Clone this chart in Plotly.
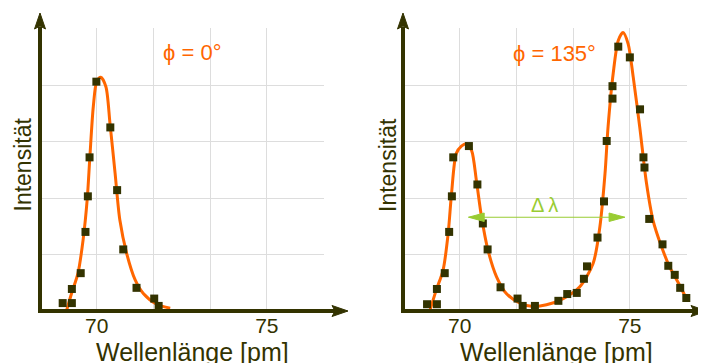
import plotly.graph_objects as go

# ---------------- data ----------------
left_pts_x = [69.00, 69.27, 69.27, 69.53, 69.67, 69.74, 69.79, 69.99, 70.40, 70.60, 70.78, 71.17, 71.69, 71.82]
left_pts_y = [0.14, 0.14, 0.39, 0.67, 1.40, 2.03, 2.72, 4.06, 3.25, 2.14, 1.09, 0.41, 0.22, 0.09]

left_fit_x = [69.12, 69.26, 69.45, 69.60, 69.72, 69.80, 69.90, 70.00, 70.12, 70.27, 70.39, 70.54,
              70.68, 70.88, 71.13, 71.37, 71.76, 72.16]
left_fit_y = [0.02, 0.31, 0.67, 1.26, 1.97, 2.74, 3.62, 4.06, 4.14, 3.97, 3.32, 2.44,
              1.61, 1.02, 0.55, 0.31, 0.12, 0.05]

right_pts_x = [69.04, 69.33, 69.33, 69.56, 69.69, 69.77, 69.81, 70.27, 70.52, 70.68, 70.82, 71.20,
               71.70, 71.85, 72.21, 72.90, 73.16, 73.44, 73.65, 73.74, 74.05, 74.24, 74.32, 74.49,
               74.49, 74.66, 75.00, 75.30, 75.40, 75.43, 75.57, 75.96, 76.13, 76.32, 76.48, 76.66]
right_pts_y = [0.12, 0.12, 0.39, 0.67, 1.40, 2.03, 2.72, 2.92, 2.24, 1.55, 1.09, 0.42,
               0.22, 0.09, 0.09, 0.18, 0.30, 0.32, 0.57, 0.79, 1.30, 1.94, 3.01, 3.76,
               3.98, 4.68, 4.49, 3.57, 2.72, 2.54, 1.63, 1.18, 0.80, 0.64, 0.41, 0.23]

right_fit_x = [69.12, 69.31, 69.51, 69.66, 69.76, 69.90, 70.05, 70.20, 70.35, 70.49, 70.64, 70.83,
               71.08, 71.37, 71.77, 72.16, 72.55, 73.04, 73.53, 73.92, 74.12, 74.27, 74.36, 74.51,
               74.66, 74.80, 74.95, 75.10, 75.29, 75.49, 75.68, 75.93, 76.17, 76.46, 76.67]
right_fit_y = [0.00, 0.37, 0.72, 1.37, 2.08, 2.79, 2.92, 2.96, 2.84, 2.31, 1.67, 1.08,
               0.61, 0.31, 0.14, 0.08, 0.11, 0.22, 0.43, 0.84, 1.49, 2.43, 3.26, 4.20,
               4.79, 4.93, 4.73, 4.14, 3.26, 2.26, 1.61, 1.14, 0.78, 0.46, 0.21]

x_tickvals = [70, 71.6667, 73.3333, 75, 76.6667]
x_ticktext = ["70", "", "", "75", ""]
y_gridvals = [1, 2, 3, 4, 5]
x_range = [68.3333, 76.68]
y_range = [0, 5.01]

delta_from, delta_to, delta_y = 70.26, 74.85, 1.66
delta_label = "\u0394\u2009\u03bb"
label_left = "\u03d5 = 0\u00b0"
label_right = "\u03d5 = 135\u00b0"
label_pos_x, label_pos_y = 72.80, 4.58

# ---------------- style ----------------
ORANGE = "#ff6600"
DARK = "#333300"
GREEN = "#99cc33"
GRID = "#dddddd"
FONT = "Liberation Sans, Arial, sans-serif"

W, H = 706, 363
OFF = 8  # page body margin: figure is drawn 8px right/down of the screenshot origin
ML, MR, MT, MB = 32, 27, 20, 60
PW, PH = W - ML - MR, H - MT - MB


def px(x):
    """screen pixel x -> paper coordinate"""
    return (x - OFF - ML) / PW


def py(y):
    """screen pixel y -> paper coordinate"""
    return (H - MB - (y - OFF)) / PH


fig = go.Figure()

for (fx, fy, mx, my, xa, ya) in [
    (left_fit_x, left_fit_y, left_pts_x, left_pts_y, "x", "y"),
    (right_fit_x, right_fit_y, right_pts_x, right_pts_y, "x2", "y2"),
]:
    fig.add_trace(go.Scatter(x=fx, y=fy, mode="lines", xaxis=xa, yaxis=ya,
                             line=dict(color=ORANGE, width=3, shape="spline", smoothing=0.8),
                             hoverinfo="skip", showlegend=False))
    fig.add_trace(go.Scatter(x=mx, y=my, mode="markers", xaxis=xa, yaxis=ya,
                             marker=dict(symbol="square", size=8, color=DARK,
                                         line=dict(width=0)),
                             cliponaxis=False, showlegend=False))

axis_common = dict(showline=False, zeroline=False, showgrid=True, gridcolor=GRID, gridwidth=1,
                   ticks="", fixedrange=True)

fig.update_layout(
    width=W, height=H,
    margin=dict(l=ML, r=MR, t=MT, b=MB),
    paper_bgcolor="white", plot_bgcolor="white",
    font=dict(family=FONT, color=DARK),
    xaxis=dict(domain=[0, 284 / PW], range=x_range, tickmode="array", tickvals=x_tickvals,
               ticktext=x_ticktext, tickfont=dict(size=21, color=DARK), anchor="y", **axis_common),
    yaxis=dict(domain=[0, 1], range=y_range, tickmode="array", tickvals=y_gridvals,
               showticklabels=False, anchor="x", **axis_common),
    xaxis2=dict(domain=[363 / PW, 1], range=x_range, tickmode="array", tickvals=x_tickvals,
                ticktext=x_ticktext, tickfont=dict(size=21, color=DARK), anchor="y2", **axis_common),
    yaxis2=dict(domain=[0, 1], range=y_range, tickmode="array", tickvals=y_gridvals,
                showticklabels=False, anchor="x2", **axis_common),
)

shapes = []
annotations = []

# axis lines with arrowheads (paper coordinates computed from screen pixel positions)
base_y = 311
for (x0, xtip) in [(40, 348), (403, 707)]:
    # y axis
    shapes.append(dict(type="line", xref="paper", yref="paper", x0=px(x0), x1=px(x0),
                       y0=py(base_y + 2), y1=py(27), line=dict(color=DARK, width=4), layer="above"))
    shapes.append(dict(type="path", xref="paper", yref="paper", layer="above",
                       path=f"M{px(x0)},{py(13)} L{px(x0 + 5.5)},{py(29)} L{px(x0)},{py(26)} L{px(x0 - 5.5)},{py(29)} Z",
                       fillcolor=DARK, line=dict(color=DARK, width=1)))
    # x axis
    shapes.append(dict(type="line", xref="paper", yref="paper", x0=px(x0 - 2), x1=px(xtip - 13),
                       y0=py(base_y), y1=py(base_y), line=dict(color=DARK, width=4), layer="above"))
    shapes.append(dict(type="path", xref="paper", yref="paper", layer="above",
                       path=f"M{px(xtip)},{py(base_y)} L{px(xtip - 16)},{py(base_y - 5.5)} L{px(xtip - 13)},{py(base_y)} L{px(xtip - 16)},{py(base_y + 5.5)} Z",
                       fillcolor=DARK, line=dict(color=DARK, width=1)))

# delta lambda double arrow (data coords of right panel)
head_len, head_half = 0.46, 0.075
shapes.append(dict(type="line", xref="x2", yref="y2", x0=delta_from, x1=delta_to,
                   y0=delta_y, y1=delta_y, line=dict(color=GREEN, width=1.2)))
shapes.append(dict(type="path", xref="x2", yref="y2",
                   path=f"M{delta_from},{delta_y} L{delta_from + head_len},{delta_y + head_half} L{delta_from + head_len},{delta_y - head_half} Z",
                   fillcolor=GREEN, line=dict(color=GREEN, width=1)))
shapes.append(dict(type="path", xref="x2", yref="y2",
                   path=f"M{delta_to},{delta_y} L{delta_to - head_len},{delta_y + head_half} L{delta_to - head_len},{delta_y - head_half} Z",
                   fillcolor=GREEN, line=dict(color=GREEN, width=1)))

annotations.append(dict(xref="x2", yref="y2", x=72.5, y=1.88, text=delta_label, showarrow=False,
                        font=dict(size=20, color=GREEN, family=FONT)))
annotations.append(dict(xref="x", yref="y", x=label_pos_x, y=label_pos_y, text=label_left,
                        showarrow=False, font=dict(size=22, color=ORANGE, family=FONT)))
annotations.append(dict(xref="x2", yref="y2", x=label_pos_x, y=label_pos_y - 0.03, text=label_right,
                        showarrow=False, font=dict(size=22, color=ORANGE, family=FONT)))

for cx_ylab, cx_xlab in [(22.5, 192), (388, 556)]:
    annotations.append(dict(xref="paper", yref="paper", x=px(cx_ylab), y=py(165), text="Intensit\u00e4t",
                            textangle=-90, showarrow=False, xanchor="center", yanchor="middle",
                            font=dict(size=23, color=DARK, family=FONT)))
    annotations.append(dict(xref="paper", yref="paper", x=px(cx_xlab), y=py(352), text="Wellenl\u00e4nge [pm]",
                            showarrow=False, xanchor="center", yanchor="middle",
                            font=dict(size=25, color=DARK, family=FONT)))

fig.update_layout(shapes=shapes, annotations=annotations)

fig.write_html("out.html")
